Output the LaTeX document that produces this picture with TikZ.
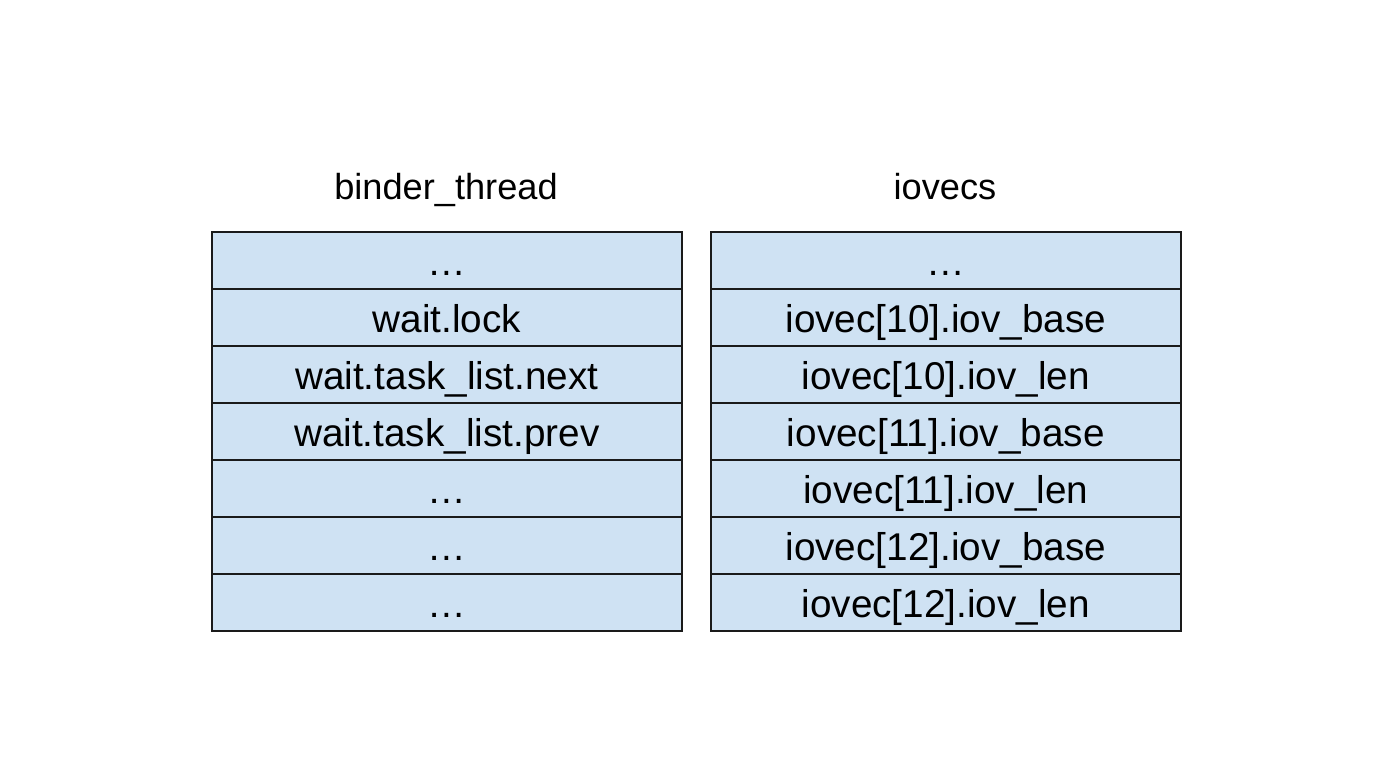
\documentclass[tikz,border=0pt]{standalone}
\usepackage{fontspec}
\setmainfont{Liberation Sans}
\definecolor{cellblue}{HTML}{CFE2F3}
\definecolor{cellline}{HTML}{1A1A1A}
\begin{document}
\begin{tikzpicture}[x=1pt,y=-1pt,
  cell/.style={draw=cellline,fill=cellblue,line width=1.6pt,minimum width=470pt,minimum height=57pt,inner sep=0pt,text height=31pt,text depth=0pt,anchor=north west,font=\fontsize{38.7}{46}\selectfont},
  title/.style={inner sep=0pt,anchor=base,font=\fontsize{36.2}{44}\selectfont}]
\useasboundingbox (0,0) rectangle (1389,778);
\node[title] (lt) at (446,200) {binder\_thread};
\node[title] (rt) at (945,200) {iovecs};
\foreach \i/\t in {0/…,1/wait.lock,2/wait.task\_list.next,3/wait.task\_list.prev,4/…,5/…,6/…}{
  \node[cell] (l\i) at (211,231+57*\i) {\t};
}
\foreach \i/\t in {0/…,1/iovec[10].iov\_base,2/iovec[10].iov\_len,3/iovec[11].iov\_base,4/iovec[11].iov\_len,5/iovec[12].iov\_base,6/iovec[12].iov\_len}{
  \node[cell] (r\i) at (710,231+57*\i) {\t};
}
\end{tikzpicture}
\end{document}
